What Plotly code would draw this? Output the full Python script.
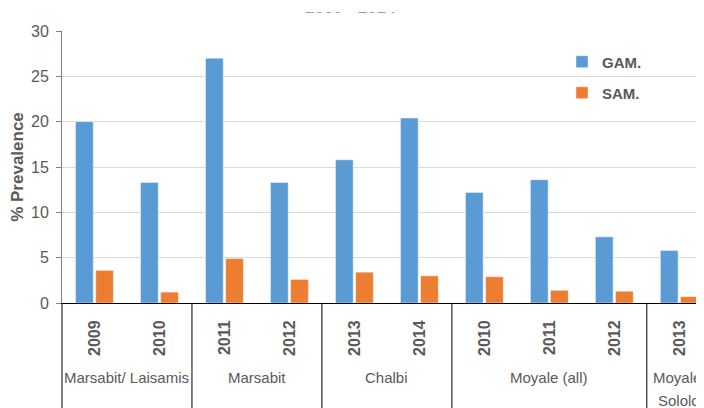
import plotly.graph_objects as go

years = ["2009", "2010", "2011", "2012", "2013", "2014", "2010", "2011", "2012", "2013"]
groups = ["Marsabit/ Laisamis", "Marsabit", "Chalbi", "Moyale (all)", "Moyale/<br>Sololo"]
group_sizes = [2, 2, 2, 3, 1]
gam = [20.0, 13.3, 27.0, 13.3, 15.8, 20.4, 12.2, 13.6, 7.3, 5.8]
sam = [3.6, 1.2, 4.9, 2.6, 3.4, 3.0, 2.9, 1.4, 1.3, 0.7]

FONT = "Liberation Sans"
GRAY = "#595959"
xr = [-0.5, 9.38]
idx = list(range(len(years)))

# page body has an 8px margin, so the figure is drawn 8px in from the top-left corner
W, H = 696, 400
ML, MT, MB = 54, 23, 105
plot_h = H - MT - MB
plot_w = W - ML

fig = go.Figure()
fig.add_trace(go.Bar(x=idx, y=gam, name="GAM.", showlegend=True,
                     marker=dict(color="#5B9BD5", line=dict(color="rgba(255,255,255,0.45)", width=1)), legend="legend"))
fig.add_trace(go.Bar(x=idx, y=sam, name="SAM.", showlegend=True,
                     marker=dict(color="#ED7D31", line=dict(color="rgba(255,255,255,0.45)", width=1)), legend="legend2"))

bottom = -MB / plot_h

def xp(v):
    return (v - xr[0]) / (xr[1] - xr[0])

shapes = []
annotations = []
start = 0
bounds = [-0.5]
for g, n in zip(groups, group_sizes):
    center = start + (n - 1) / 2
    for k, line in enumerate(g.split("<br>")):
        annotations.append(dict(x=center, xref="x", y=-(74 + 23 * k) / plot_h, yref="paper", text=line,
                                showarrow=False, yanchor="middle",
                                font=dict(family=FONT, size=15, color=GRAY)))
    start += n
    bounds.append(start - 0.5)
for b in bounds:
    if b <= xr[1]:
        shapes.append(dict(type="line", xref="paper", yref="paper", x0=xp(b), x1=xp(b), y0=0, y1=bottom,
                           line=dict(color="black", width=1)))

# chart title, mostly cut off at the top as in the reference
title_x = (342 - ML) / plot_w
annotations.append(dict(x=title_x, xref="paper", xanchor="center", y=1 + (MT - 10.5) / plot_h, yref="paper",
                        yanchor="bottom", text="2009 - 2014", showarrow=False,
                        font=dict(family=FONT, size=17, color="#404040", weight="bold")))
# white band hiding the upper part of that title
annotations.append(dict(x=title_x, xref="paper", xanchor="center", y=1 + (MT - 4.7) / plot_h, yref="paper",
                        yanchor="bottom", text=" ", showarrow=False, width=160, height=12, borderpad=0,
                        bgcolor="white", font=dict(size=4)))

leg_x = (554 - ML) / plot_w
fig.update_layout(
    width=W, height=H,
    margin=dict(l=ML, r=0, t=MT, b=MB, autoexpand=False),
    paper_bgcolor="white", plot_bgcolor="white",
    barmode="group", bargap=0.38, bargroupgap=0.12,
    showlegend=True,
    font=dict(family=FONT, color=GRAY),
    xaxis=dict(range=xr, tickmode="array", tickvals=idx, ticktext=years, tickangle=-90, automargin=False,
               tickfont=dict(family=FONT, size=16, color=GRAY, weight="bold"),
               showline=True, linecolor="black", linewidth=1, ticks="", showgrid=False,
               ticklabelstandoff=10, zeroline=False),
    yaxis=dict(range=[0, 30], tickvals=[0, 5, 10, 15, 20, 25, 30], showgrid=True, gridcolor="#D9D9D9",
               showline=True, linecolor="#7F7F7F", linewidth=1, ticks="outside", ticklen=5, tickcolor="#7F7F7F",
               tickfont=dict(family=FONT, size=16, color=GRAY), zeroline=False, automargin=False,
               ticklabelstandoff=4,
               title=dict(text="% Prevalence", font=dict(family=FONT, size=17, color=GRAY, weight="bold"), standoff=11)),
    legend=dict(x=leg_x, y=1 - (54 - MT) / plot_h, xanchor="left", yanchor="middle", bgcolor="rgba(0,0,0,0)",
                font=dict(family=FONT, size=15, color=GRAY, weight="bold"), itemwidth=30),
    legend2=dict(x=leg_x, y=1 - (85 - MT) / plot_h, xanchor="left", yanchor="middle", bgcolor="rgba(0,0,0,0)",
                 font=dict(family=FONT, size=15, color=GRAY, weight="bold"), itemwidth=30),
    shapes=shapes, annotations=annotations,
)

fig.write_html("out.html")
